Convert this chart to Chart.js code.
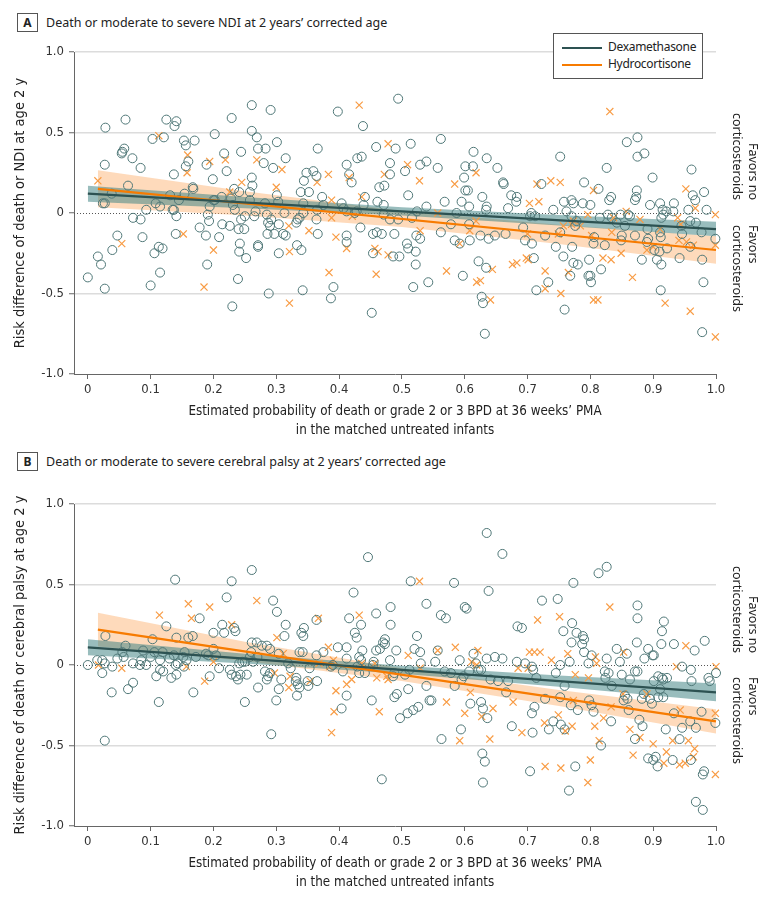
<!DOCTYPE html>
<html>
<head>
<meta charset="utf-8">
<script src="https://cdn.jsdelivr.net/npm/chart.js@4.4.1/dist/chart.umd.min.js"></script>
<style>
  body { margin: 0; width: 780px; height: 899px; overflow: hidden; background: #fff; position: relative; font-family: 'Noto Sans', sans-serif; color: #222; }
  .panel { position: absolute; left: 0; width: 780px; height: 452px; }
  .panel canvas { position: absolute; left: 0; top: 0; }
  .ptitle { position: absolute; left: 17px; height: 20px; font-size: 12.5px; white-space: nowrap; display: flex; align-items: center; }
  .ptitle b { display: inline-block; box-sizing: border-box; width: 21px; height: 19px; border: 1px solid #555; text-align: center; line-height: 17px; font-size: 12px; margin-right: 8px; }
  .favor { position: absolute; left: 729px; height: 100px; writing-mode: vertical-rl; font-size: 12.5px; line-height: 16px; white-space: nowrap; }
  .legend { position: absolute; left: 553px; top: 33px; width: 148px; height: 44px; border: 1px solid #555; background: #fff; font-size: 12px; letter-spacing: -0.3px; }
  .legend div { position: absolute; left: 8px; height: 16px; line-height: 16px; white-space: nowrap; }
  .legend i { display: inline-block; width: 40px; height: 2px; vertical-align: middle; margin-right: 6px; }
</style>
</head>
<body>

<div class="ptitle" style="top:12px"><b>A</b>Death or moderate to severe NDI at 2 years’ corrected age</div>
<div class="ptitle" style="top:451px"><b>B</b>Death or moderate to severe cerebral palsy at 2 years’ corrected age</div>

<div class="panel" style="top:0"><canvas id="chartA" width="780" height="452"></canvas></div>
<div class="panel" style="top:452px"><canvas id="chartB" width="780" height="452"></canvas></div>

<div class="favor" style="top:100px; text-align:end">Favors no<br>corticosteroids</div>
<div class="favor" style="top:225px; text-align:start">Favors<br>corticosteroids</div>
<div class="favor" style="top:553px; text-align:end">Favors no<br>corticosteroids</div>
<div class="favor" style="top:677px; text-align:start">Favors<br>corticosteroids</div>

<div class="legend">
  <div style="top:5px"><i style="background:#2d5252"></i>Dexamethasone</div>
  <div style="top:22px"><i style="background:#f77b00"></i>Hydrocortisone</div>
</div>

<script>
// Panel A: death or NDI, [estimated probability, risk difference]
const dexA = [
  [0.261,0.67],[0.291,0.64],[0.229,0.59],[0.060,0.58],[0.028,0.53],[0.125,0.58],[0.141,0.57],[0.138,0.54],[0.398,0.63],[0.438,0.54],
  [0.494,0.71],[0.202,0.49],[0.103,0.46],[0.121,0.47],[0.153,0.45],[0.156,0.42],[0.170,0.45],[0.261,0.51],[0.269,0.47],[0.301,0.44],
  [0.271,0.40],[0.283,0.40],[0.244,0.38],[0.217,0.37],[0.366,0.40],[0.459,0.41],[0.490,0.40],[0.514,0.43],[0.058,0.40],[0.055,0.38],
  [0.054,0.37],[0.071,0.34],[0.084,0.28],[0.027,0.30],[0.160,0.32],[0.156,0.29],[0.189,0.30],[0.221,0.26],[0.280,0.31],[0.295,0.28],
  [0.315,0.34],[0.412,0.30],[0.429,0.34],[0.436,0.35],[0.481,0.31],[0.481,0.24],[0.505,0.26],[0.529,0.30],[0.539,0.32],[0.137,0.24],
  [0.199,0.21],[0.261,0.22],[0.262,0.17],[0.258,0.13],[0.258,0.08],[0.233,0.15],[0.241,0.13],[0.064,0.17],[0.038,0.12],[0.024,0.06],
  [0.027,0.06],[0.131,0.11],[0.145,0.08],[0.167,0.16],[0.168,0.15],[0.154,0.12],[0.108,0.06],[0.115,0.04],[0.093,0.02],[0.072,-0.03],
  [0.084,-0.04],[0.137,0.02],[0.135,0.02],[0.141,-0.02],[0.194,0.04],[0.200,0.08],[0.202,0.08],[0.213,0.10],[0.228,0.09],[0.231,0.05],
  [0.234,0.02],[0.191,-0.01],[0.193,-0.05],[0.178,-0.09],[0.214,-0.07],[0.226,-0.08],[0.250,-0.02],[0.244,-0.04],[0.240,-0.10],[0.249,-0.10],
  [0.265,-0.02],[0.267,0.01],[0.282,0.06],[0.285,-0.01],[0.287,-0.06],[0.290,-0.08],[0.292,-0.04],[0.301,0.11],[0.303,0.07],[0.313,0.00],
  [0.304,-0.07],[0.297,-0.13],[0.286,-0.13],[0.311,-0.13],[0.315,-0.14],[0.334,-0.04],[0.332,-0.06],[0.337,-0.03],[0.343,0.00],[0.339,0.13],
  [0.344,0.20],[0.352,0.13],[0.348,0.25],[0.359,0.26],[0.364,0.23],[0.343,0.06],[0.365,0.02],[0.364,-0.04],[0.366,-0.13],[0.373,0.10],
  [0.375,0.05],[0.404,0.06],[0.407,0.03],[0.412,0.01],[0.425,0.00],[0.428,0.01],[0.439,0.05],[0.434,-0.09],[0.416,0.24],[0.420,0.19],
  [0.441,0.10],[0.461,0.07],[0.471,0.05],[0.464,0.16],[0.472,0.17],[0.510,0.11],[0.471,-0.01],[0.481,-0.04],[0.494,-0.04],[0.516,-0.03],
  [0.524,0.01],[0.539,0.04],[0.454,-0.13],[0.460,-0.12],[0.468,-0.13],[0.488,-0.13],[0.508,-0.19],[0.510,-0.22],[0.523,-0.14],[0.529,-0.16],
  [0.522,-0.24],[0.486,-0.27],[0.496,-0.27],[0.454,-0.25],[0.522,-0.32],[0.518,-0.46],[0.542,-0.43],[0.140,-0.13],[0.087,-0.15],[0.047,-0.14],
  [0.039,-0.23],[0.016,-0.27],[0.021,-0.32],[0.000,-0.40],[0.027,-0.47],[0.113,-0.21],[0.119,-0.22],[0.106,-0.25],[0.115,-0.37],[0.100,-0.45],
  [0.188,-0.14],[0.190,-0.32],[0.209,-0.15],[0.242,-0.19],[0.241,-0.24],[0.252,-0.28],[0.271,-0.20],[0.271,-0.21],[0.239,-0.41],[0.230,-0.58],
  [0.288,-0.50],[0.304,-0.25],[0.333,-0.20],[0.340,-0.23],[0.342,-0.48],[0.387,-0.53],[0.391,-0.46],[0.412,-0.14],[0.412,-0.18],[0.452,-0.62],
  [0.562,0.46],[0.557,0.28],[0.614,0.38],[0.635,0.34],[0.652,0.28],[0.601,0.29],[0.613,0.29],[0.599,0.22],[0.601,0.14],[0.605,0.14],
  [0.568,0.07],[0.595,0.07],[0.607,0.04],[0.587,0.00],[0.578,-0.07],[0.562,-0.12],[0.584,-0.17],[0.592,-0.19],[0.608,-0.17],[0.607,-0.07],
  [0.625,-0.14],[0.628,0.10],[0.635,0.04],[0.634,0.02],[0.638,-0.16],[0.648,-0.14],[0.622,-0.30],[0.634,-0.34],[0.597,-0.39],[0.661,0.19],
  [0.662,0.18],[0.674,0.11],[0.683,0.10],[0.682,0.07],[0.669,0.03],[0.665,-0.13],[0.627,-0.52],[0.629,-0.56],[0.632,-0.75],[0.693,-0.09],
  [0.696,-0.17],[0.706,0.00],[0.704,-0.02],[0.712,-0.02],[0.707,-0.19],[0.710,-0.28],[0.714,-0.48],[0.722,0.18],[0.741,0.02],[0.728,-0.14],
  [0.733,-0.43],[0.752,0.35],[0.758,0.07],[0.762,0.01],[0.770,0.08],[0.773,0.06],[0.788,0.06],[0.800,0.05],[0.790,0.19],[0.770,-0.02],
  [0.778,-0.05],[0.776,-0.08],[0.752,-0.12],[0.745,-0.21],[0.757,-0.27],[0.771,-0.21],[0.773,-0.31],[0.780,-0.32],[0.768,-0.39],[0.759,-0.60],
  [0.798,-0.29],[0.797,-0.39],[0.800,-0.39],[0.801,-0.43],[0.805,-0.19],[0.806,-0.15],[0.815,-0.03],[0.813,0.15],[0.826,0.28],[0.823,-0.20],
  [0.817,-0.35],[0.830,0.08],[0.833,0.10],[0.828,-0.01],[0.834,-0.03],[0.848,-0.01],[0.850,-0.14],[0.849,-0.17],[0.842,-0.06],[0.858,0.44],
  [0.875,0.47],[0.875,0.35],[0.886,0.37],[0.871,0.08],[0.874,0.14],[0.873,0.10],[0.860,-0.01],[0.863,-0.02],[0.871,-0.14],[0.855,-0.08],
  [0.882,-0.29],[0.899,0.22],[0.895,0.05],[0.891,-0.10],[0.892,-0.16],[0.890,-0.18],[0.902,-0.23],[0.910,-0.24],[0.906,-0.29],[0.913,-0.32],
  [0.912,-0.48],[0.911,-0.12],[0.912,-0.15],[0.911,0.06],[0.915,0.02],[0.921,0.01],[0.916,-0.01],[0.913,-0.03],[0.922,-0.22],[0.942,-0.28],
  [0.933,0.06],[0.932,0.01],[0.945,-0.08],[0.946,-0.13],[0.961,0.27],[0.963,0.11],[0.967,0.08],[0.981,0.13],[0.956,0.02],[0.968,-0.06],
  [0.959,-0.05],[0.985,0.02],[0.977,-0.12],[0.999,-0.16],[0.959,-0.21],[0.978,-0.29],[0.980,-0.43],[0.978,-0.74]
];
const hydroA = [
  [0.432,0.67],[0.113,0.48],[0.159,0.36],[0.158,0.25],[0.194,0.32],[0.219,0.33],[0.269,0.33],[0.309,0.27],[0.245,0.19],[0.300,0.16],
  [0.478,0.43],[0.509,0.30],[0.472,0.24],[0.528,0.20],[0.383,0.24],[0.416,0.22],[0.436,0.10],[0.365,0.19],[0.388,0.08],[0.016,0.20],
  [0.226,0.13],[0.152,-0.13],[0.054,-0.19],[0.200,-0.23],[0.320,-0.08],[0.321,-0.24],[0.352,-0.11],[0.388,-0.03],[0.421,-0.02],[0.395,-0.15],
  [0.412,-0.22],[0.457,-0.22],[0.462,-0.24],[0.478,-0.26],[0.529,-0.11],[0.384,-0.37],[0.459,-0.38],[0.185,-0.46],[0.321,-0.56],
  [0.831,0.63],[0.618,0.25],[0.584,0.18],[0.557,0.00],[0.592,-0.19],[0.608,-0.11],[0.618,-0.05],[0.715,0.18],[0.737,0.20],[0.752,0.19],
  [0.703,0.06],[0.718,0.07],[0.700,-0.13],[0.757,-0.08],[0.770,-0.07],[0.773,-0.05],[0.749,-0.13],[0.805,0.14],[0.796,-0.01],[0.802,-0.14],
  [0.784,-0.08],[0.837,-0.03],[0.857,0.01],[0.834,-0.12],[0.820,-0.28],[0.833,-0.29],[0.849,-0.25],[0.879,-0.04],[0.890,-0.23],[0.900,-0.21],
  [0.911,-0.10],[0.939,-0.03],[0.944,-0.07],[0.952,0.15],[0.967,0.03],[0.941,-0.17],[0.953,-0.18],[0.964,-0.20],[0.999,-0.01],[0.999,-0.20],
  [0.676,-0.32],[0.683,-0.31],[0.698,-0.28],[0.701,-0.29],[0.644,-0.35],[0.619,-0.43],[0.625,-0.42],[0.641,-0.54],[0.571,-0.36],[0.728,-0.36],
  [0.728,-0.47],[0.753,-0.50],[0.765,-0.37],[0.805,-0.54],[0.812,-0.54],[0.867,-0.40],[0.919,-0.56],[0.959,-0.61],[0.999,-0.77]
];

// Panel B: death or cerebral palsy
const dexB = [
  [0.446,0.67],[0.261,0.59],[0.139,0.53],[0.229,0.52],[0.514,0.52],[0.539,0.38],[0.423,0.45],[0.221,0.42],[0.295,0.40],[0.301,0.33],
  [0.482,0.36],[0.459,0.32],[0.178,0.29],[0.125,0.24],[0.214,0.25],[0.217,0.20],[0.233,0.23],[0.235,0.21],[0.200,0.20],[0.315,0.25],
  [0.313,0.18],[0.340,0.20],[0.344,0.23],[0.343,0.18],[0.364,0.28],[0.416,0.29],[0.435,0.25],[0.425,0.20],[0.428,0.17],[0.482,0.25],
  [0.473,0.16],[0.470,0.14],[0.473,0.13],[0.459,0.09],[0.465,0.10],[0.491,0.09],[0.524,0.18],[0.520,0.10],[0.529,0.08],[0.530,0.01],
  [0.028,0.18],[0.103,0.16],[0.141,0.17],[0.160,0.17],[0.167,0.18],[0.060,0.12],[0.055,0.08],[0.047,0.04],[0.057,0.05],[0.088,0.09],
  [0.100,0.05],[0.106,0.08],[0.119,0.08],[0.137,0.06],[0.130,0.04],[0.143,0.01],[0.140,0.00],[0.154,0.08],[0.152,0.05],[0.157,0.03],
  [0.153,-0.01],[0.172,0.05],[0.188,0.07],[0.192,0.06],[0.204,0.06],[0.200,0.10],[0.115,0.03],[0.115,-0.03],[0.120,-0.04],[0.109,-0.07],
  [0.000,0.00],[0.015,0.03],[0.023,0.03],[0.027,0.01],[0.023,-0.05],[0.039,-0.01],[0.072,0.01],[0.083,0.00],[0.093,0.00],[0.085,0.03],
  [0.133,-0.08],[0.141,-0.06],[0.194,-0.07],[0.209,-0.02],[0.072,-0.11],[0.064,-0.15],[0.038,-0.17],[0.168,-0.17],[0.113,-0.23],[0.027,-0.47],
  [0.226,-0.03],[0.229,-0.06],[0.236,-0.07],[0.239,-0.09],[0.243,-0.06],[0.253,-0.06],[0.241,0.01],[0.246,0.02],[0.250,0.02],[0.260,0.08],
  [0.258,0.05],[0.263,0.02],[0.270,0.05],[0.269,0.14],[0.277,0.12],[0.285,0.12],[0.290,0.10],[0.261,0.14],[0.282,-0.04],[0.285,-0.09],
  [0.287,-0.07],[0.290,-0.05],[0.271,-0.14],[0.250,-0.23],[0.292,-0.43],[0.304,0.07],[0.308,-0.09],[0.304,-0.15],[0.300,-0.22],[0.319,0.01],
  [0.323,-0.02],[0.332,-0.08],[0.334,-0.12],[0.333,-0.19],[0.337,-0.14],[0.331,-0.10],[0.337,0.08],[0.342,0.08],[0.350,-0.10],[0.351,-0.13],
  [0.353,-0.02],[0.364,0.06],[0.365,-0.10],[0.375,0.08],[0.387,-0.01],[0.390,0.00],[0.398,0.11],[0.412,0.11],[0.412,0.04],[0.406,-0.04],
  [0.412,-0.19],[0.404,-0.27],[0.432,-0.05],[0.429,-0.01],[0.441,-0.05],[0.435,0.03],[0.437,0.09],[0.432,0.05],[0.454,0.00],[0.455,0.02],
  [0.452,-0.22],[0.481,0.03],[0.486,-0.07],[0.488,-0.05],[0.492,-0.18],[0.488,-0.20],[0.510,-0.15],[0.497,-0.33],[0.509,-0.30],[0.518,-0.28],
  [0.526,-0.26],[0.505,-0.06],[0.512,-0.03],[0.539,-0.13],[0.544,-0.22],[0.468,-0.71],
  [0.635,0.82],[0.660,0.69],[0.583,0.51],[0.638,0.46],[0.813,0.57],[0.826,0.61],[0.773,0.51],[0.562,0.31],[0.570,0.29],[0.600,0.36],
  [0.603,0.35],[0.723,0.40],[0.748,0.41],[0.684,0.24],[0.691,0.23],[0.757,0.21],[0.771,0.26],[0.778,0.20],[0.788,0.18],[0.790,0.16],
  [0.770,0.14],[0.787,0.13],[0.875,0.37],[0.875,0.29],[0.917,0.27],[0.914,0.21],[0.913,0.13],[0.933,0.13],[0.982,0.15],[0.966,0.09],
  [0.874,0.14],[0.842,0.10],[0.858,0.07],[0.892,0.10],[0.899,0.06],[0.901,0.06],[0.886,0.04],[0.790,0.08],[0.802,0.06],[0.797,0.01],
  [0.767,0.02],[0.826,0.04],[0.847,0.02],[0.752,0.00],[0.745,-0.05],[0.714,-0.08],[0.707,-0.01],[0.709,-0.03],[0.683,0.02],[0.696,0.01],
  [0.669,-0.10],[0.653,-0.10],[0.641,-0.09],[0.635,0.04],[0.648,0.05],[0.660,0.04],[0.614,0.07],[0.618,0.01],[0.622,-0.03],[0.626,-0.03],
  [0.592,0.03],[0.568,-0.04],[0.578,-0.05],[0.607,-0.04],[0.598,-0.07],[0.595,-0.09],[0.584,-0.13],[0.553,0.02],[0.557,0.09],[0.547,-0.22],
  [0.563,-0.46],[0.594,-0.40],[0.609,-0.24],[0.626,-0.23],[0.629,-0.27],[0.636,-0.33],[0.628,-0.55],[0.632,-0.60],[0.629,-0.73],[0.666,-0.17],
  [0.675,-0.38],[0.708,-0.42],[0.707,-0.30],[0.711,-0.26],[0.704,-0.66],[0.728,-0.21],[0.734,-0.40],[0.741,-0.35],[0.753,-0.37],[0.759,-0.40],
  [0.759,-0.13],[0.752,-0.20],[0.769,-0.25],[0.780,-0.28],[0.766,-0.78],[0.776,-0.63],[0.798,-0.22],[0.802,-0.25],[0.805,-0.29],[0.817,-0.50],
  [0.823,-0.04],[0.829,-0.05],[0.834,-0.13],[0.824,-0.08],[0.833,-0.35],[0.850,-0.06],[0.863,-0.09],[0.859,-0.21],[0.853,-0.22],[0.855,-0.19],
  [0.861,-0.28],[0.875,-0.04],[0.871,-0.04],[0.885,-0.18],[0.882,-0.21],[0.895,-0.21],[0.898,-0.24],[0.908,-0.20],[0.878,-0.34],[0.883,-0.38],
  [0.871,-0.46],[0.901,-0.10],[0.908,-0.07],[0.914,-0.08],[0.916,-0.09],[0.922,-0.08],[0.911,-0.15],[0.916,-0.20],[0.892,-0.58],[0.904,-0.57],
  [0.900,-0.59],[0.907,-0.63],[0.920,-0.40],[0.931,-0.59],[0.933,-0.30],[0.942,-0.46],[0.946,-0.39],[0.959,-0.35],[0.968,-0.39],[0.946,-0.01],
  [0.960,-0.03],[0.961,-0.10],[0.988,-0.08],[1.000,-0.05],[0.990,-0.10],[0.977,-0.29],[0.999,-0.36],[0.960,-0.59],[0.968,-0.85],[0.979,-0.90],
  [0.979,-0.68],[0.981,-0.66]
];
const hydroB = [
  [0.160,0.38],[0.194,0.36],[0.165,0.29],[0.114,0.31],[0.269,0.40],[0.229,0.25],[0.301,0.17],[0.367,0.29],[0.432,0.31],[0.528,0.52],
  [0.383,0.11],[0.510,0.06],[0.017,0.00],[0.054,-0.02],[0.157,-0.01],[0.200,0.02],[0.186,-0.10],[0.311,0.07],[0.297,-0.05],[0.322,-0.07],
  [0.320,-0.14],[0.354,-0.10],[0.368,0.01],[0.385,-0.01],[0.391,0.03],[0.395,-0.16],[0.412,-0.12],[0.420,-0.09],[0.392,-0.29],[0.388,-0.42],
  [0.436,0.01],[0.457,0.01],[0.460,-0.08],[0.476,-0.07],[0.478,-0.09],[0.464,-0.29],[0.529,-0.02],
  [0.831,0.36],[0.716,0.28],[0.751,0.30],[0.585,0.11],[0.557,0.09],[0.621,0.09],[0.611,0.02],[0.619,0.00],[0.703,0.08],[0.711,0.08],
  [0.720,0.08],[0.738,0.03],[0.764,0.07],[0.808,0.05],[0.810,0.01],[0.853,0.08],[0.952,0.12],[0.937,-0.01],[1.000,-0.01],[0.685,-0.02],
  [0.701,-0.02],[0.776,-0.06],[0.797,-0.08],[0.609,-0.17],[0.571,-0.23],[0.600,-0.30],[0.627,-0.32],[0.645,-0.27],[0.677,-0.23],[0.640,-0.46],
  [0.592,-0.47],[0.691,-0.42],[0.727,-0.36],[0.749,-0.31],[0.760,-0.41],[0.771,-0.38],[0.773,-0.22],[0.807,-0.38],[0.821,-0.33],[0.833,-0.26],
  [0.814,-0.47],[0.852,-0.18],[0.890,-0.18],[0.863,-0.40],[0.879,-0.45],[0.868,-0.56],[0.900,-0.49],[0.921,-0.54],[0.917,-0.61],[0.931,-0.47],
  [0.943,-0.28],[0.956,-0.47],[0.966,-0.52],[0.942,-0.62],[0.951,-0.61],[0.964,-0.57],[0.999,-0.30],[0.999,-0.68],[0.728,-0.63],[0.753,-0.64],
  [0.800,-0.59],[0.796,-0.73]
];

// fitted lines and 95% bands
const dexFitA = [[0, 0.12], [1, -0.10]];
const hydroFitA = [[0.016, 0.15], [1, -0.23]];
const dexBandXA = [0, 0.25, 0.5, 0.75, 1];
const dexLoA = [0.07, 0.03, -0.015, -0.077, -0.145];
const dexHiA = [0.17, 0.10, 0.035, -0.013, -0.055];
const hydroBandXA = [0.016, 0.25, 0.5, 0.75, 1];
const hydroLoA = [0.035, -0.015, -0.087, -0.193, -0.315];
const hydroHiA = [0.265, 0.135, 0.013, -0.073, -0.145];

const dexFitB = [[0, 0.11], [1, -0.17]];
const hydroFitB = [[0.016, 0.22], [1, -0.35]];
const dexBandXB = [0, 0.25, 0.5, 0.75, 1];
const dexLoB = [0.06, 0.01, -0.055, -0.135, -0.225];
const dexHiB = [0.16, 0.07, -0.005, -0.065, -0.115];
const hydroBandXB = [0.016, 0.25, 0.5, 0.75, 1];
const hydroLoB = [0.115, 0.025, -0.10, -0.255, -0.425];
const hydroHiB = [0.325, 0.145, -0.02, -0.155, -0.275];

const xTitle = ['Estimated probability of death or grade 2 or 3 BPD at 36 weeks’ PMA', 'in the matched untreated infants'];

const narrow = "'Liberation Sans Narrow', 'DejaVu Sans Condensed', 'Roboto Condensed', sans-serif";
const pts = a => a.map(([x, y]) => ({x, y}));
const band = (xs, ys) => xs.map((x, i) => ({x, y: ys[i]}));

const zeroLine = {
  id: 'zeroLine',
  beforeDatasetsDraw(chart) {
    const {ctx, chartArea, scales} = chart;
    const py = Math.round(scales.y.getPixelForValue(0)) + 0.5;
    ctx.save();
    ctx.strokeStyle = '#555';
    ctx.lineWidth = 1;
    ctx.setLineDash([1, 2]);
    ctx.beginPath();
    ctx.moveTo(chartArea.left, py);
    ctx.lineTo(chartArea.right, py);
    ctx.stroke();
    ctx.restore();
  }
};

function makeChart(id, yTitle, dex, hydro, dexFit, hydroFit, dBX, dLo, dHi, hBX, hLo, hHi) {
  const lineBase = {type: 'line', pointRadius: 0, borderWidth: 0, fill: false, tension: 0, clip: false};
  return new Chart(document.getElementById(id), {
    type: 'scatter',
    data: {
      datasets: [
        {...lineBase, data: pts(dexFit), borderColor: '#2d5252', borderWidth: 2.2, order: 0},
        {...lineBase, data: pts(hydroFit), borderColor: '#f77b00', borderWidth: 2.2, order: 0},
        {data: pts(dex), pointStyle: 'circle', pointRadius: 4.5, borderWidth: 1,
         borderColor: '#4f7777', backgroundColor: 'rgba(0,0,0,0)', order: 1, clip: false},
        {data: pts(hydro), pointStyle: 'crossRot', pointRadius: 5, borderWidth: 1.2,
         borderColor: '#f89c45', backgroundColor: 'rgba(0,0,0,0)', order: 1, clip: false},
        {...lineBase, data: band(hBX, hHi), borderColor: 'rgba(0,0,0,0)', order: 3},
        {...lineBase, data: band(hBX, hLo), borderColor: 'rgba(0,0,0,0)', fill: 4,
         backgroundColor: 'rgba(252,172,105,0.45)', order: 3},
        {...lineBase, data: band(dBX, dHi), borderColor: 'rgba(0,0,0,0)', order: 2},
        {...lineBase, data: band(dBX, dLo), borderColor: 'rgba(0,0,0,0)', fill: 6,
         backgroundColor: 'rgba(70,135,135,0.55)', order: 2}
      ]
    },
    options: {
      responsive: false,
      animation: false,
      events: [],
      layout: {padding: {left: 0, right: 64, top: 52, bottom: 0}},
      plugins: {legend: {display: false}, tooltip: {enabled: false}},
      scales: {
        x: {
          type: 'linear', min: -0.022, max: 1,
          afterFit: s => { s.height = 78; },
          border: {color: '#666', width: 1},
          grid: {drawOnChartArea: false, drawTicks: true, tickLength: 5, tickColor: '#666'},
          ticks: {stepSize: 0.1, includeBounds: false, padding: 3, color: '#333',
                  font: {family: narrow, size: 13},
                  callback: v => Math.abs(v) < 1e-9 ? '0' : v.toFixed(1)},
          title: {display: true, text: xTitle, color: '#222', padding: {top: 0, bottom: 11},
                  font: {family: narrow, size: 13.3, lineHeight: 1.5}}
        },
        y: {
          min: -1, max: 1,
          afterFit: s => { s.width = 74; },
          border: {color: '#666', width: 1},
          grid: {
            lineWidth: 1.5, tickLength: 5, tickColor: '#666', tickWidth: 1,
            color: c => (Math.abs(c.tick.value) < 1e-9 || c.tick.value <= -1) ? 'rgba(0,0,0,0)' : '#dcdcdc'
          },
          ticks: {stepSize: 0.5, padding: 5, color: '#333', font: {family: narrow, size: 13},
                  callback: v => Math.abs(v) < 1e-9 ? '0' : v.toFixed(1)},
          title: {display: true, text: yTitle, color: '#222', padding: {top: 11, bottom: 0},
                  font: {family: narrow, size: 14.5, lineHeight: 1.33}}
        }
      }
    },
    plugins: [zeroLine]
  });
}

makeChart('chartA', 'Risk difference of death or NDI at age 2 y', dexA, hydroA, dexFitA, hydroFitA,
  dexBandXA, dexLoA, dexHiA, hydroBandXA, hydroLoA, hydroHiA);
makeChart('chartB', 'Risk difference of death or cerebral palsy at age 2 y', dexB, hydroB, dexFitB, hydroFitB,
  dexBandXB, dexLoB, dexHiB, hydroBandXB, hydroLoB, hydroHiB);
</script>
</body>
</html>
